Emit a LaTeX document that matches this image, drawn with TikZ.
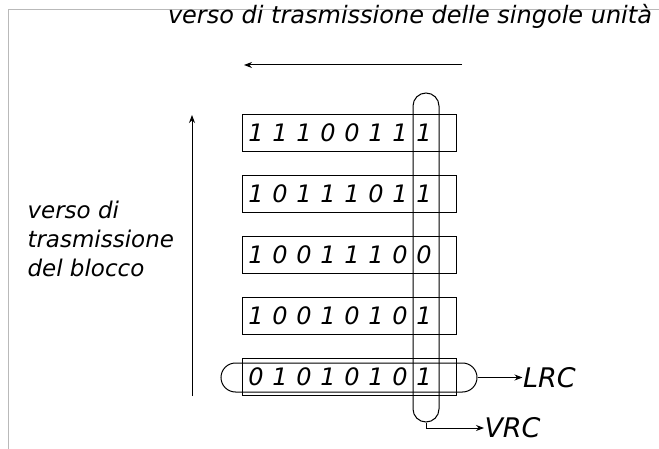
\documentclass[tikz,border=0pt]{standalone}
\usepackage{fontspec}
\setmainfont{DejaVu Sans}
\usetikzlibrary{arrows.meta,positioning}
\tikzset{
  bitbox/.style={draw, minimum width=214pt, minimum height=37pt, inner sep=0pt},
  bit/.style={font=\fontsize{24}{24}\selectfont\itshape, inner sep=0pt},
  capsule/.style={draw, rounded corners=#1, inner sep=0pt},
  tip/.style={-{Stealth[length=8pt,width=6pt]}},
  lbl/.style={font=\fontsize{27}{27}\selectfont\itshape, inner sep=0pt, anchor=west},
}

\begin{document}
\begin{tikzpicture}[x=1pt,y=-1pt, line width=1pt]
\useasboundingbox (0,0) rectangle (659,449);
\draw[gray!55, line width=1.5pt] (8.5,449) -- (8.5,9.5) -- (659,9.5);

% direction of the single units
\node (title) [font=\fontsize{24}{24}\selectfont\itshape, inner sep=0pt] at (410,16) {verso di trasmissione delle singole unità};
\coordinate (hstart) at (462,65);
\coordinate (hend) at (244,65);
\draw[tip] (hstart) -- (hend);

% direction of the block
\node (blocco) [font=\fontsize{23}{29}\selectfont\itshape, inner sep=0pt, align=left, anchor=west] at (27,239) {verso di\\trasmissione\\del blocco};
\coordinate (vstart) at (192,396);
\coordinate (vend) at (192,115);
\draw[tip] (vstart) -- (vend);

% the block
\foreach \bits [count=\r] in {{1,1,1,0,0,1,1,1},{1,0,1,1,1,0,1,1},{1,0,0,1,1,1,0,0},{1,0,0,1,0,1,0,1},{0,1,0,1,0,1,0,1}} {
  \node (row\r) [bitbox] at ({349},{133+61*(\r-1)}) {};
  \foreach \d [count=\c] in \bits
    \node (bit\r-\c) [bit] at ({256+24*(\c-1)},{133+61*(\r-1)}) {\d};
}

% parity checks
\node (vcap) [capsule=13pt, minimum width=26pt, minimum height=329pt] at (426,257.5) {};
\node (hcap) [capsule=14.5pt, minimum width=256pt, minimum height=29pt] at (349,377.5) {};
\node (lrc) [lbl, right=45pt of hcap] {LRC};
\node (vrc) [lbl] at (484,428) {VRC};
\draw[tip] (hcap) -- (lrc);
\draw[tip] (vcap.south) |- (vrc);
\end{tikzpicture}
\end{document}
